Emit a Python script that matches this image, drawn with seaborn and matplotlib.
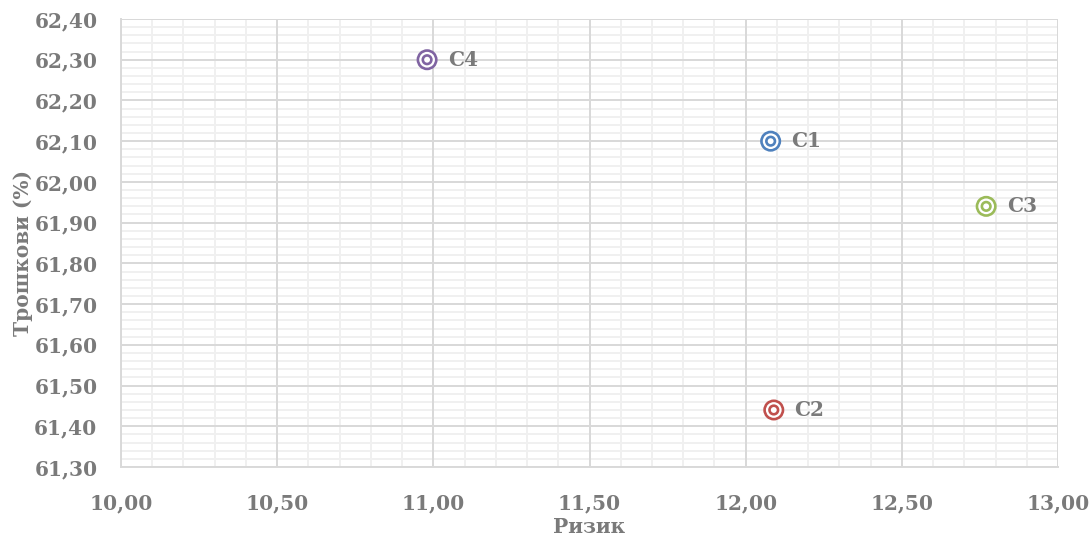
import matplotlib
matplotlib.use("Agg")
import matplotlib.pyplot as plt
from matplotlib.ticker import MultipleLocator, FuncFormatter, NullLocator
import seaborn as sns
import pandas as pd

# Scenario data: risk vs. cost
labels = ["C1", "C2", "C3", "C4"]
risk = [12.08, 12.09, 12.77, 10.98]
cost = [62.10, 61.44, 61.94, 62.30]
colors = ["#4F81BD", "#C0504D", "#9BBB59", "#8064A2"]

x_label = "Ризик"
y_label = "Трошкови (%)"

df = pd.DataFrame({"label": labels, "risk": risk, "cost": cost})
palette = dict(zip(labels, colors))

sns.set_theme(style="white")
text_gray = "#7A7A7A"
plt.rcParams["font.family"] = ["DejaVu Serif"]
plt.rcParams["font.weight"] = "bold"
fs = 14.5

xlim = (10.0, 13.0)
ylim = (61.30, 62.40)
rect = [121 / 1090, 1 - 467 / 540, (1058 - 121) / 1090, (467 - 19) / 540]

fig = plt.figure(figsize=(10.9, 5.4), dpi=100)

# background axes carrying only the fine grid
bg = fig.add_axes(rect, zorder=0)
bg.set_xlim(*xlim)
bg.set_ylim(*ylim)
bg.xaxis.set_major_locator(MultipleLocator(0.1))
bg.yaxis.set_major_locator(MultipleLocator(0.02))
bg.grid(which="major", color="#F0F0F0", linewidth=1.4)
bg.tick_params(which="both", length=0, labelbottom=False, labelleft=False)
for s in bg.spines.values():
    s.set_visible(False)

# main axes with the coarse grid and the data
ax = fig.add_axes(rect, zorder=1)
ax.patch.set_visible(False)

# outer ring
sns.scatterplot(data=df, x="risk", y="cost", hue="label", palette=palette,
                s=175, marker="o", linewidth=1.9, legend=False, ax=ax, zorder=4)
outer = ax.collections[-1]
outer.set_facecolor("white")
outer.set_edgecolor([palette[l] for l in labels])
# inner ring
sns.scatterplot(data=df, x="risk", y="cost", hue="label", palette=palette,
                s=38, marker="o", linewidth=1.9, legend=False, ax=ax, zorder=5)
inner = ax.collections[-1]
inner.set_facecolor("white")
inner.set_edgecolor([palette[l] for l in labels])

for lab, xv, yv in zip(labels, risk, cost):
    ax.annotate(lab, (xv, yv), xytext=(15, 0), textcoords="offset points",
                va="center", ha="left", fontsize=fs, fontweight="bold",
                color=text_gray)

ax.set_xlim(*xlim)
ax.set_ylim(*ylim)
ax.xaxis.set_major_locator(MultipleLocator(0.5))
ax.yaxis.set_major_locator(MultipleLocator(0.1))
ax.xaxis.set_minor_locator(NullLocator())
ax.yaxis.set_minor_locator(NullLocator())
fmt = FuncFormatter(lambda v, p: f"{v:.2f}".replace(".", ","))
ax.xaxis.set_major_formatter(fmt)
ax.yaxis.set_major_formatter(fmt)

ax.grid(which="major", color="#D9D9D9", linewidth=1.4)
ax.set_axisbelow(True)

ax.tick_params(which="both", length=0)
ax.tick_params(axis="y", pad=17, labelsize=fs, labelcolor=text_gray)
ax.tick_params(axis="x", pad=19, labelsize=fs, labelcolor=text_gray)
for t in ax.get_xticklabels() + ax.get_yticklabels():
    t.set_fontweight("bold")

for side in ["top", "right"]:
    ax.spines[side].set_visible(False)
for side in ["left", "bottom"]:
    ax.spines[side].set_color("#D9D9D9")
    ax.spines[side].set_linewidth(1.4)

ax.set_xlabel(x_label, fontsize=fs, fontweight="bold", color=text_gray, va="center")
ax.set_ylabel(y_label, fontsize=fs, fontweight="bold", color=text_gray, va="center")
ax.xaxis.set_label_coords(0.5, (467 - 527) / 448)
ax.yaxis.set_label_coords((23 - 121) / 937, (467 - 253) / 448)

fig.savefig("out.png", dpi=100)
